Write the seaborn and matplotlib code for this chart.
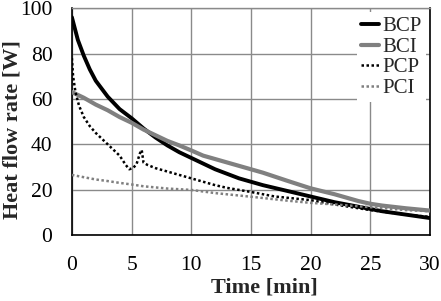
import matplotlib
matplotlib.use("Agg")
import matplotlib.pyplot as plt
import seaborn as sns
import pandas as pd

# ---- data ----
t_bcp = [0, 0.5, 1, 1.5, 2, 3, 4, 5, 6, 7, 8, 9, 10, 11, 12, 14, 15, 16, 18, 20, 22, 24, 25, 26, 28, 30]
v_bcp = [96, 86, 79, 73, 68, 61, 55.5, 51.5, 47, 43, 39.5, 36.5, 34, 31.5, 29, 25, 23.5, 22, 19.5, 17, 14.5, 12.5, 11.5, 10.5, 9, 7.5]

t_bci = [0, 1, 2, 3, 4, 5, 6, 7, 8, 9, 10, 11, 12, 14, 15, 16, 18, 20, 22, 24, 25, 26, 28, 30]
v_bci = [63, 60.5, 57.5, 55, 52, 49.5, 46.5, 44, 41.5, 39.5, 37.3, 35, 33.5, 30.5, 29, 27.5, 24, 20.6, 18, 15, 13.8, 13, 11.8, 10.8]

t_pcp = [0, 0.1, 0.3, 0.6, 1, 1.5, 2, 2.5, 3, 3.5, 4, 4.5, 4.8, 5.1, 5.4, 5.7, 5.85, 6.0, 6.3, 7, 8, 9, 10, 11, 12, 13, 15, 17, 20, 22, 25, 28, 30]
v_pcp = [78, 70, 63, 57, 52, 48, 45, 42.5, 40, 37.5, 35, 31, 29, 29.5, 31, 36, 37.5, 32, 31, 29.5, 28, 26.5, 25, 23.5, 22, 20.8, 19, 17, 15.4, 13.5, 11, 9, 8]

t_pci = [0, 1, 2, 3, 4, 5, 6, 7, 8, 10, 12, 15, 18, 20, 22, 25, 28, 30]
v_pci = [26.5, 25.5, 24.5, 23.8, 23, 22.3, 21.5, 21, 20.5, 19.9, 18.5, 16.9, 15.2, 14.2, 13.5, 12.3, 11, 10.5]

series_names = ["BCP", "BCI", "PCP", "PCI"]
x_ticks = [0, 5, 10, 15, 20, 25, 30]
y_ticks = [0, 20, 40, 60, 80, 100]

sns.set_theme(style="white")
plt.rcParams["font.family"] = ["Liberation Serif", "DejaVu Serif"]

fig = plt.figure(figsize=(4.41, 3.01), dpi=100)
ax = fig.add_axes([0.163, 0.219, 0.812, 0.754])

styles = {
    "BCP": dict(color="black", lw=2.8, ls="-"),
    "BCI": dict(color="#808080", lw=3.0, ls="-"),
    "PCP": dict(color="black", lw=1.8, ls=(0, (1, 1))),
    "PCI": dict(color="#808080", lw=1.8, ls=(0, (1, 1))),
}
data = {"BCP": (t_bcp, v_bcp), "BCI": (t_bci, v_bci), "PCP": (t_pcp, v_pcp), "PCI": (t_pci, v_pci)}

for name in series_names:
    t, v = data[name]
    df = pd.DataFrame({"t": t, "v": v})
    st = styles[name]
    sns.lineplot(data=df, x="t", y="v", ax=ax, color=st["color"], linewidth=st["lw"],
                 linestyle=st["ls"], label=name, zorder=3)

ax.set_xlim(0, 30)
ax.set_ylim(0, 100)
ax.set_xticks(x_ticks)
ax.set_yticks(y_ticks)
ax.grid(True, color="#8a8a8a", linewidth=1.0)
ax.set_axisbelow(True)
for s in ["left", "bottom", "right"]:
    ax.spines[s].set_color("black")
    ax.spines[s].set_linewidth(1.2)
ax.spines["top"].set_color("#8a8a8a")
ax.spines["top"].set_linewidth(1.0)
ax.tick_params(axis="both", length=0, labelsize=15.5, colors="black")
ax.tick_params(axis="x", pad=15)
ax.tick_params(axis="y", pad=14)
ax.set_xlabel("Time [min]", fontsize=16, fontweight="bold")
ax.set_ylabel("Heat flow rate [W]", fontsize=16, fontweight="bold")
ax.xaxis.set_label_coords(0.538, -0.185)
ax.yaxis.set_label_coords(-0.137, 0.467)

leg = ax.legend(loc="upper right", bbox_to_anchor=(0.995, 0.99), fontsize=15, frameon=True,
                fancybox=False, edgecolor="white", framealpha=1, handlelength=0.9,
                handletextpad=0.15, labelspacing=0.05, borderpad=0.2, borderaxespad=0.1)
leg.get_frame().set_linewidth(0)

fig.savefig("out.png", dpi=100)
